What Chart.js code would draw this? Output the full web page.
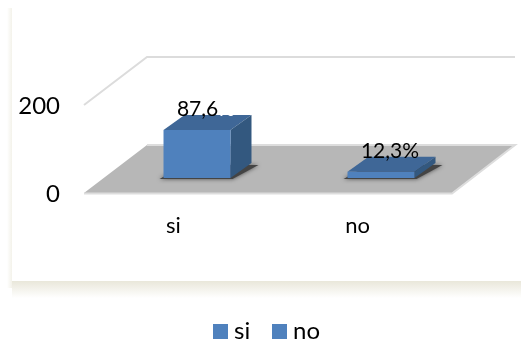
<!DOCTYPE html>
<html>
<head>
<meta charset="utf-8">
<style>
  html, body { margin: 0; padding: 0; background: #fff; }
  canvas { display: block; }
</style>
<script src="https://cdn.jsdelivr.net/npm/chart.js@4/dist/chart.umd.min.js"></script>
</head>
<body>
<canvas id="chart" width="521" height="343"></canvas>
<script>
/* ─── Data ─── */
const categories = ["si", "no"];
const counts     = [109, 14];
const percentLabels = [["87,6", "%"], ["12,3%", ""]];
const yTicks     = [0, 200];

const FONT = "Lato, sans-serif";
const BLUE = "#4f81bd";

// 3D look: the floor runs this far back, the bars stand a third of the way in
const FLOOR_DX = 63, FLOOR_DY = -48;
const BAR_DX = 21, BAR_DY = -15;

function poly(ctx, pts, fill) {
  ctx.beginPath();
  pts.forEach((p, i) => i ? ctx.lineTo(p[0], p[1]) : ctx.moveTo(p[0], p[1]));
  ctx.closePath();
  ctx.fillStyle = fill;
  ctx.fill();
}

/* ─── Panel with its soft shadow ─── */
const panelPlugin = {
  id: "panel",
  beforeDraw(chart) {
    const ctx = chart.ctx;
    ctx.save();
    let g = ctx.createLinearGradient(0, 281, 0, 298);
    g.addColorStop(0, "#e9e7da");
    g.addColorStop(1, "#ffffff");
    ctx.fillStyle = g;
    ctx.fillRect(12, 281, 509, 17);
    g = ctx.createLinearGradient(7, 0, 12, 0);
    g.addColorStop(0, "#ffffff");
    g.addColorStop(1, "#f3f2ea");
    ctx.fillStyle = g;
    ctx.fillRect(7, 8, 5, 280);
    ctx.restore();
  },
};

/* ─── Walls, floor and the side/top faces of the bars ─── */
const box3dPlugin = {
  id: "box3d",
  beforeDatasetsDraw(chart) {
    const ctx = chart.ctx;
    const { x: xs, y: ys } = chart.scales;
    const l = xs.left, r = xs.right, y0 = ys.getPixelForValue(0), yTop = ys.getPixelForValue(200);

    ctx.save();
    // wall outline
    ctx.strokeStyle = "#dcdcdc";
    ctx.lineWidth = 2;
    ctx.beginPath();
    ctx.moveTo(l, yTop);
    ctx.lineTo(l + FLOOR_DX, yTop + FLOOR_DY);
    ctx.lineTo(r + FLOOR_DX, yTop + FLOOR_DY);
    ctx.stroke();

    // floor
    poly(ctx, [[l, y0], [r, y0], [r + FLOOR_DX, y0 + FLOOR_DY], [l + FLOOR_DX, y0 + FLOOR_DY]], "#b7b7b7");
    ctx.strokeStyle = "#dddddd";
    ctx.beginPath();
    ctx.moveTo(l, y0 + 0.5);
    ctx.lineTo(r, y0 + 0.5);
    ctx.lineTo(r + FLOOR_DX, y0 + FLOOR_DY);
    ctx.lineTo(l + FLOOR_DX, y0 + FLOOR_DY);
    ctx.stroke();

    chart.getDatasetMeta(0).data.forEach(bar => {
      const x1 = bar.x - bar.width / 2 + BAR_DX, x2 = bar.x + bar.width / 2 + BAR_DX;
      const top = bar.y + BAR_DY, base = bar.base + BAR_DY;

      // shadow on the floor
      ctx.save();
      ctx.shadowColor = "rgba(0,0,0,0.6)";
      ctx.shadowBlur = 4;
      poly(ctx, [[x1 - 4, base + 1], [x2 + 2, base + 1], [x2 + BAR_DX + 7, base + BAR_DY + 2], [x1 + BAR_DX, base + BAR_DY + 2]], "#444444");
      ctx.restore();

      // top and side faces
      poly(ctx, [[x1, top], [x2, top], [x2 + BAR_DX, top + BAR_DY], [x1 + BAR_DX, top + BAR_DY]], "#3f6797");
      poly(ctx, [[x2, top], [x2 + BAR_DX, top + BAR_DY], [x2 + BAR_DX, base + BAR_DY], [x2, base]], "#33587f");
    });
    ctx.restore();

    // the front faces are drawn by Chart.js, pushed back onto the floor
    ctx.save();
    ctx.translate(BAR_DX, BAR_DY);
  },
  afterDatasetsDraw(chart) {
    const ctx = chart.ctx;
    ctx.restore();

    // data labels
    ctx.save();
    ctx.font = "21px " + FONT;
    ctx.textBaseline = "middle";
    chart.getDatasetMeta(0).data.forEach((bar, i) => {
      const [dark, light] = percentLabels[i];
      const w1 = ctx.measureText(dark).width, w2 = ctx.measureText(light).width;
      const x = bar.x + BAR_DX + 9 - (w1 + w2) / 2, y = bar.y + BAR_DY - 21;
      ctx.textAlign = "left";
      ctx.fillStyle = "#000";
      ctx.fillText(dark, x, y);
      if (light) {
        ctx.fillStyle = "#fff";
        ctx.fillText(light, x + w1, y);
      }
    });

    // legend
    let lx = 213;
    const ly = 324;
    ctx.font = "24px " + FONT;
    categories.forEach(c => {
      ctx.fillStyle = BLUE;
      ctx.fillRect(lx, ly, 15, 15);
      ctx.fillStyle = "#000";
      ctx.fillText(c, lx + 21, ly + 7);
      lx += 59;
    });
    ctx.restore();
  },
};

new Chart(document.getElementById("chart"), {
  type: "bar",
  data: {
    labels: categories,
    datasets: [{
      data: counts,
      backgroundColor: BLUE,
      barPercentage: 0.364,
      categoryPercentage: 1,
    }],
  },
  options: {
    responsive: false,
    animation: false,
    layout: { padding: { left: 0, right: 69, top: 105, bottom: 0 } },
    plugins: { legend: { display: false }, tooltip: { enabled: false } },
    scales: {
      x: {
        grid: { display: false },
        border: { display: false },
        afterFit(scale) { scale.height = 150; },
        ticks: { color: "#000", font: { family: FONT, size: 22 }, padding: 12, maxRotation: 0, labelOffset: -2.5 },
      },
      y: {
        min: yTicks[0],
        max: yTicks[1],
        grid: { display: false },
        border: { display: false },
        afterFit(scale) { scale.width = 84; },
        afterBuildTicks(scale) { scale.ticks = yTicks.map(v => ({ value: v })); },
        ticks: { color: "#000", font: { family: FONT, size: 24 }, padding: 16, labelOffset: 1.5 },
      },
    },
  },
  plugins: [panelPlugin, box3dPlugin],
});
</script>
</body>
</html>
